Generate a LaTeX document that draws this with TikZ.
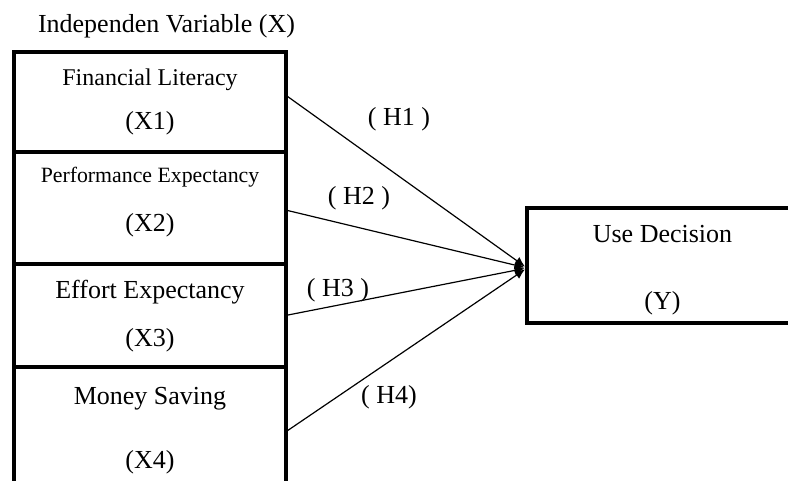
\documentclass[tikz,border=0pt]{standalone}
\usepackage{fontspec}
\setmainfont{Liberation Serif}
\usetikzlibrary{arrows.meta}

\begin{document}
\begin{tikzpicture}[x=1pt,y=-1pt]
    \pgfmathsetmacro{\boxleft}{14}
    \pgfmathsetmacro{\boxwidth}{271.5}
    \pgfmathsetmacro{\boxrule}{4}
    \pgfmathsetmacro{\textcenter}{150}
    \providecommand{\labelfontsize}{\fontsize{26}{30}\selectfont}
    \providecommand{\literacyfontsize}{\fontsize{24}{28}\selectfont}
    \providecommand{\performancefontsize}{\fontsize{21.8}{26}\selectfont}
    \tikzset{
        varbox/.style={draw,line width=\boxrule pt,anchor=north west,inner sep=0,outer sep=0,minimum width=\boxwidth pt},
        hypline/.style={line width=1.2pt,-{Latex[length=10pt,width=9pt]},shorten >=2.5pt},
        boxtext/.style={anchor=base,inner sep=0,font=\labelfontsize}
    }
    \useasboundingbox (0,0) rectangle (788,481);
    % \draw[help lines] (0,0) grid[step=50] (788,481);
    \node[boxtext] (heading) at (166.5,33) {Independen Variable (X)};
    \node[varbox,minimum height=100pt] (fl) at (\boxleft,52) {};
    \node[varbox,minimum height=112pt] (pe) at (\boxleft,152) {};
    \node[varbox,minimum height=103pt] (ee) at (\boxleft,264) {};
    \node[varbox,minimum height=128pt] (ms) at (\boxleft,367) {};
    \node[varbox,minimum width=300pt,minimum height=115pt] (ud) at (527,208) {};
    \node[boxtext,font=\literacyfontsize] (fltitle) at (\textcenter,86) {Financial Literacy};
    \node[boxtext] (flcode) at (\textcenter,130) {(X1)};
    \node[boxtext,font=\performancefontsize] (petitle) at (\textcenter,183) {Performance Expectancy};
    \node[boxtext] (pecode) at (\textcenter,232) {(X2)};
    \node[boxtext] (eetitle) at (\textcenter,299) {Effort Expectancy};
    \node[boxtext] (eecode) at (\textcenter,347) {(X3)};
    \node[boxtext] (mstitle) at (\textcenter,404) {Money Saving};
    \node[boxtext] (mscode) at (\textcenter,468) {(X4)};
    \node[boxtext] (udtitle) at (662.5,243) {Use Decision};
    \node[boxtext] (udcode) at (662.5,310) {(Y)};
    \draw[hypline] ([yshift=7pt]fl.east) -- ([yshift=-2.5pt]ud.west);
    \draw[hypline] ([yshift=-2pt]pe.east) -- ([yshift=-2.5pt]ud.west);
    \draw[hypline] (ee.east) -- ([yshift=-2.5pt]ud.west);
    \draw[hypline] ([yshift=-1pt]ms.east) -- ([yshift=-2.5pt]ud.west);
    \node[boxtext] (h1) at (399,126) {( H1 )};
    \node[boxtext] (h2) at (359,205) {( H2 )};
    \node[boxtext] (h3) at (338,297) {( H3 )};
    \node[boxtext] (h4) at (389,403) {( H4)};
\end{tikzpicture}
\end{document}
